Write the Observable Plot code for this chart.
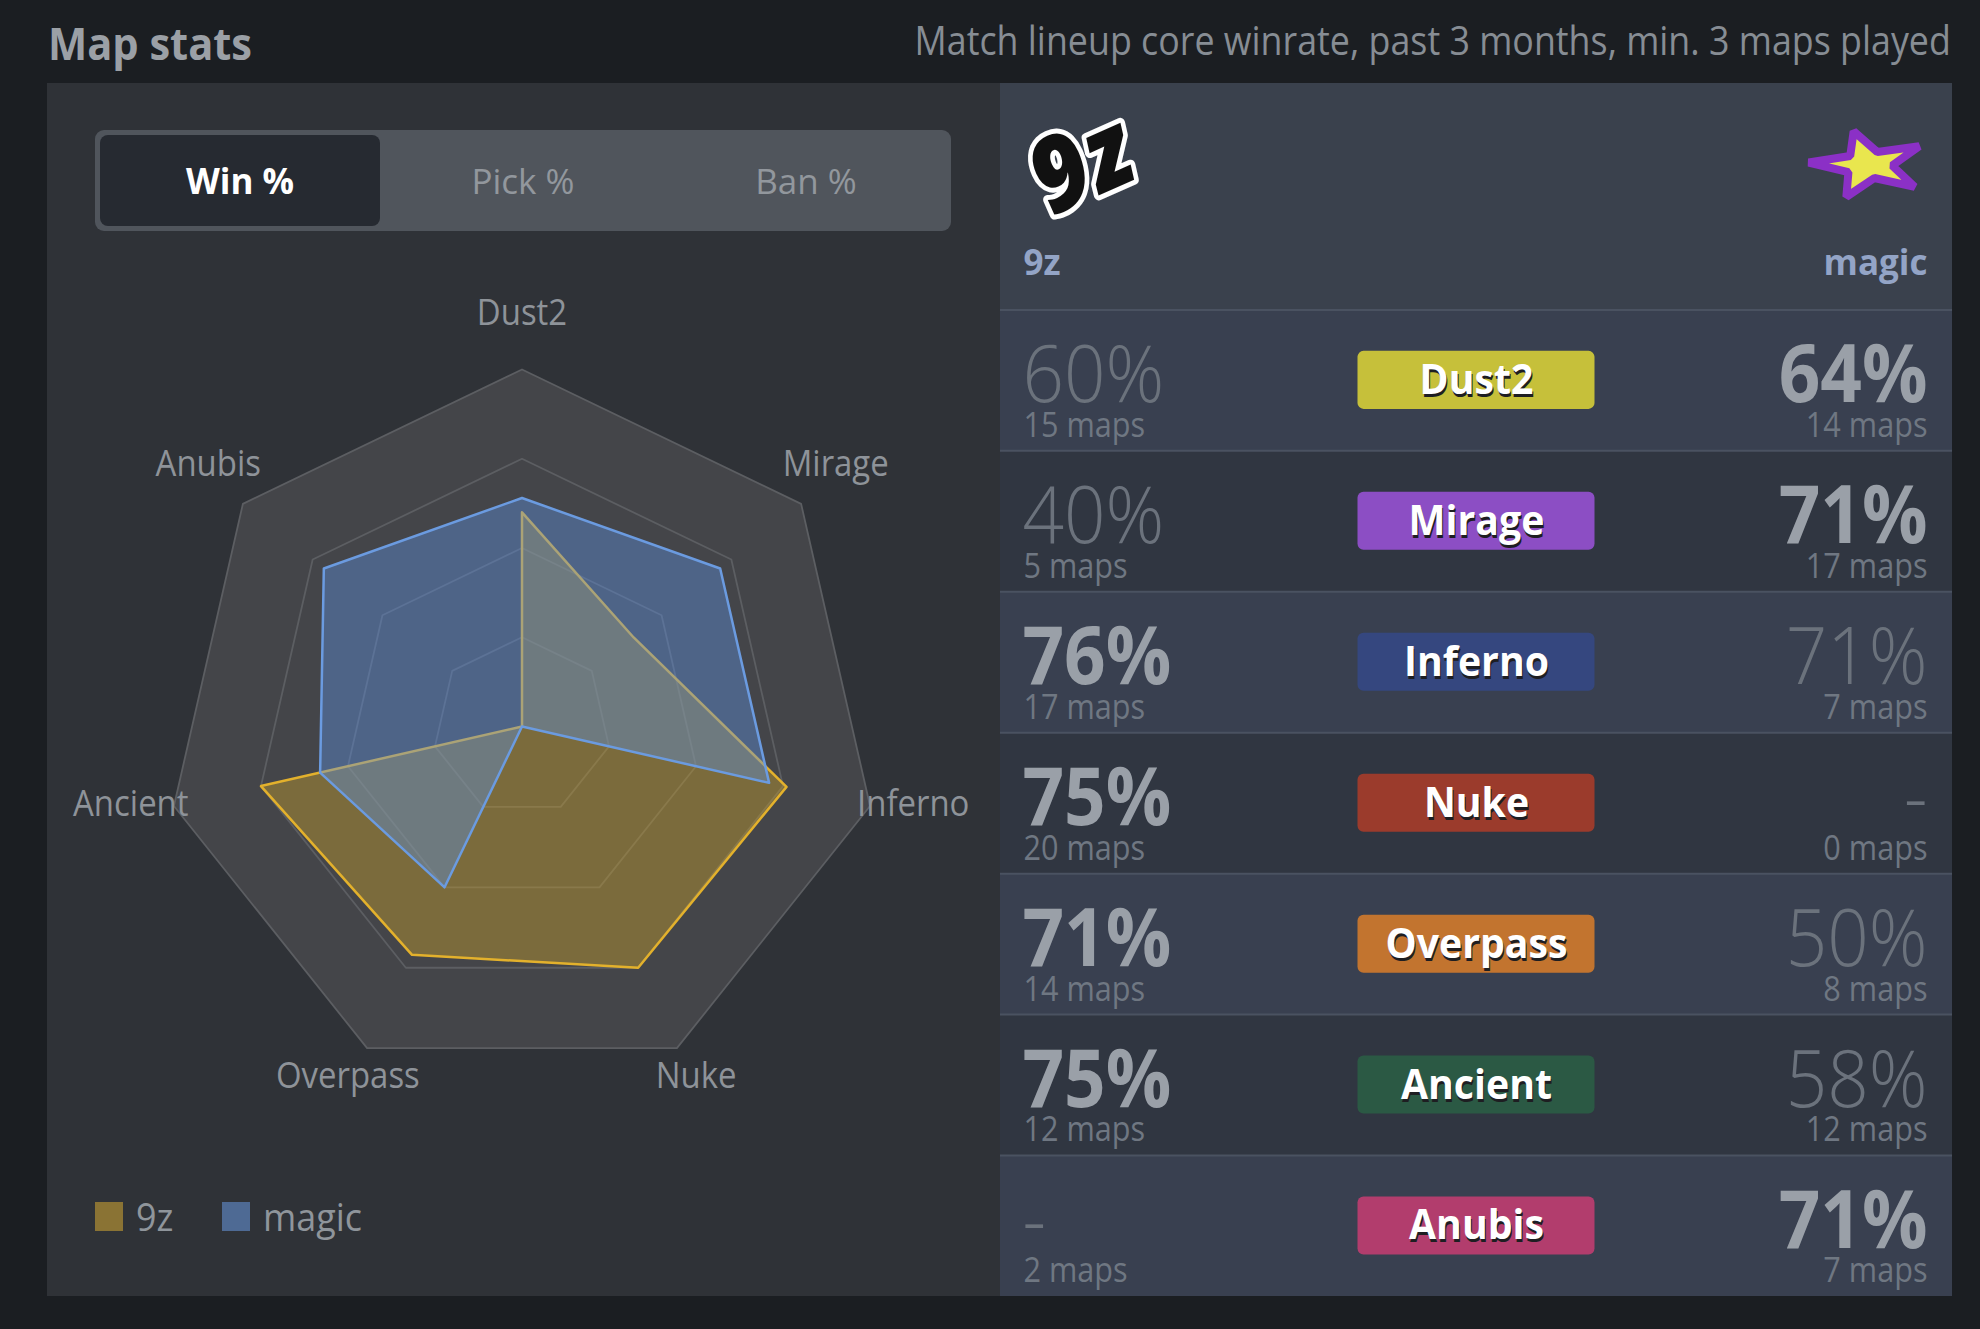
<!DOCTYPE html>
<html>
<head>
<meta charset="utf-8">
<script src="https://cdn.jsdelivr.net/npm/d3@7"></script>
<script src="https://cdn.jsdelivr.net/npm/@observablehq/plot@0.6"></script>
<style>
  html, body { margin: 0; padding: 0; background: #1b1e22; }
  body { width: 1980px; height: 1329px; position: relative; overflow: hidden;
         font-family: "Open Sans", sans-serif; }
  .sx { display: inline-block; white-space: nowrap; }
  #title { position: absolute; left: 48px; top: 21px; font-size: 44px; line-height: 44px;
           font-weight: 700; color: #9ba0a6; }
  #title .sx { transform: scaleX(0.945); transform-origin: left center; }
  #subtitle { position: absolute; right: 29px; top: 20px; font-size: 40px; line-height: 40px;
              color: #878d94; white-space: nowrap; text-align: right; }
  #subtitle .sx { transform: scaleX(0.895); transform-origin: right center; }
  #left { position: absolute; left: 47px; top: 83px; width: 953px; height: 1213px; background: #2f3237; }
  #right { position: absolute; left: 1000px; top: 83px; width: 952px; height: 1213px; background: #3a414d; }
  #tabs { position: absolute; left: 48px; top: 47px; width: 856px; height: 101px; background: #50555c;
          border-radius: 9px; }
  .tab { position: absolute; top: 5px; width: 280px; height: 91px; line-height: 91px; text-align: center;
         font-size: 35px; color: #92979d; border-radius: 8px; }
  .tab.active { background: #262a31; color: #ffffff; font-weight: 700; }
  #radar { position: absolute; left: 0; top: 160px; }
  .sw { position: absolute; width: 28px; height: 29px; top: 1119px; }
  .lg { position: absolute; top: 1108px; font-size: 38px; line-height: 50px; color: #8f959b; }
  .lg .sx { transform: scaleX(0.945); transform-origin: left center; }
  #table { position: absolute; left: 0; top: 0; }
</style>
</head>
<body>
<div id="title"><span class="sx">Map stats</span></div>
<div id="subtitle"><span class="sx">Match lineup core winrate, past 3 months, min. 3 maps played</span></div>
<div id="left">
  <div id="tabs"></div>
  <div id="radar"></div>
  <div id="legend"></div>
</div>
<div id="right"><div id="table"></div></div>
<script>
// ---------------- data ----------------
const maps = ["Dust2", "Mirage", "Inferno", "Nuke", "Overpass", "Ancient", "Anubis"];
const teams = ["9z", "magic"];
const winrate9z = [60, 40, 76, 75, 71, 75, null];
const mapsPlayed9z = [15, 5, 17, 20, 14, 12, 2];
const winrateMagic = [64, 71, 71, null, 50, 58, 71];
const mapsPlayedMagic = [14, 17, 7, 0, 8, 12, 7];
const tabLabels = ["Win %", "Pick %", "Ban %"];
const ringLevels = [25, 50, 75, 100];
const badgeColors = ["#c6c03a", "#8c4ec4", "#35477f", "#9b3b2c", "#c2742f", "#2b5944", "#b23d6d"];
const teamFill = ["#c99f2c", "#5e8fdd"];
const teamStroke = ["#e3b12c", "#6b9be0"];
const legendSwatch = ["#8a7334", "#4e6a94"];

// horizontal squeeze per text style (the source typeface is narrower than Open Sans)
function condense(svg) {
  svg.querySelectorAll("text").forEach(t => {
    const g = t.closest("g[font-size]");
    const fs = g ? +g.getAttribute("font-size") : 0;
    const fw = g ? g.getAttribute("font-weight") : null;
    let s = 0.875;
    if (fs >= 80) s = 0.91;
    else if (fs === 42) s = 0.935;
    else if (fs === 37) s = 0.89;
    else if (fs === 35 && fw === "700") s = 1;
    if (s === 1) return;
    const tr = t.getAttribute("transform");
    if (tr) t.setAttribute("transform", tr + ` scale(${s},1)`);
    else {
      const x = +(t.getAttribute("x") || 0), y = +(t.getAttribute("y") || 0);
      t.removeAttribute("x"); t.removeAttribute("y");
      t.setAttribute("transform", `translate(${x},${y}) scale(${s},1)`);
    }
  });
}

// ---------------- tabs & legend (HTML) ----------------
const tabs = document.getElementById("tabs");
tabLabels.forEach((t, i) => {
  const d = document.createElement("div");
  d.className = "tab" + (i === 0 ? " active" : "");
  d.style.left = (5 + i * 283) + "px";
  d.innerHTML = `<span class="sx">${t}</span>`;
  tabs.appendChild(d);
});
const legend = document.getElementById("legend");
const legendX = [48, 175];
teams.forEach((t, i) => {
  const sw = document.createElement("div");
  sw.className = "sw"; sw.style.left = legendX[i] + "px"; sw.style.background = legendSwatch[i];
  legend.appendChild(sw);
  const lb = document.createElement("div");
  lb.className = "lg"; lb.style.left = (legendX[i] + 41) + "px";
  lb.innerHTML = `<span class="sx">${t}</span>`;
  legend.appendChild(lb);
});

// ---------------- radar ----------------
const n = maps.length;
const ang = i => (i * 2 * Math.PI) / n;
const ringPts = ringLevels.flatMap(level => maps.map((m, i) => ({level, i, v: level})));
const outerPts = maps.map((m, i) => ({i, v: 100}));
const teamPts = (vals) => maps.map((m, i) => ({i, v: vals[i] == null ? 0 : vals[i]}));
const X = d => d.v * Math.sin(ang(d.i));
const Y = d => d.v * Math.cos(ang(d.i));
const labelR = 112.4;

const radar = Plot.plot({
  width: 953, height: 930,
  marginLeft: 117.5, marginRight: 121.5, marginTop: 126, marginBottom: 90,
  x: {domain: [-100, 100], axis: null},
  y: {domain: [-100, 100], axis: null},
  style: {background: "transparent", fontFamily: "'Open Sans', sans-serif", overflow: "visible"},
  marks: [
    Plot.line(outerPts, {x: X, y: Y, curve: "linear-closed", fill: "#444549", stroke: "none"}),
    Plot.line(ringPts, {x: X, y: Y, z: "level", curve: "linear-closed", stroke: "#5c5e62", strokeWidth: 1.8}),
    Plot.line(teamPts(winrate9z), {x: X, y: Y, curve: "linear-closed", fill: teamFill[0], fillOpacity: 0.42,
      stroke: teamStroke[0], strokeWidth: 2.5}),
    Plot.line(teamPts(winrateMagic), {x: X, y: Y, curve: "linear-closed", fill: teamFill[1], fillOpacity: 0.42,
      stroke: teamStroke[1], strokeWidth: 2.5}),
    Plot.text(maps, {x: (d, i) => labelR * Math.sin(ang(i)), y: (d, i) => labelR * Math.cos(ang(i)),
      text: d => d, fontSize: 37, fill: "#8e9399", dy: -12})
  ]
});
condense(radar);
document.getElementById("radar").appendChild(radar);

// ---------------- stats table ----------------
const W = 952, H = 1213, rowH = 140.94, headerRows = 226.4 / rowH;
const rows = maps.map((m, i) => ({
  map: m, i,
  a: winrate9z[i], an: mapsPlayed9z[i],
  b: winrateMagic[i], bn: mapsPlayedMagic[i]
}));
const score = v => v == null ? -1 : v;
const pctText = v => v == null ? "-" : v + "%";
const badgeHalf = 118.5 / W, badgeHalfH = 29 / rowH;
const bright = "#9aa0a8", dim = "#6b727c";

const leftBold = rows.filter(r => score(r.a) > score(r.b));
const leftLight = rows.filter(r => !(score(r.a) > score(r.b)));
const rightBold = rows.filter(r => score(r.b) > score(r.a));
const rightLight = rows.filter(r => !(score(r.b) > score(r.a)));
const pctOpts = (side, weight) => ({
  x: side === "left" ? 0 : 1, y: d => d.i + 0.655,
  text: d => pctText(side === "left" ? d.a : d.b),
  textAnchor: side === "left" ? "start" : "end", lineAnchor: "bottom",
  dx: side === "left" ? 22 : -25, fontSize: 80, fontWeight: weight,
  fill: weight === 700 ? bright : dim
});

// magic logo: a flattened, tilted five-pointed star (pixel offsets converted to table units)
const starCx = 1 - 84 / W, starCy = -1.03;
const star = d3.range(10).map(k => {
  const a = (k * Math.PI) / 5 - 0.25;
  const rr = k % 2 ? 19 : 48;
  return {x: starCx + (rr * Math.sin(a) * 1.25) / W, y: starCy - (rr * Math.cos(a) * 0.72) / rowH};
});

const table = Plot.plot({
  width: W, height: H, margin: 0,
  x: {domain: [0, 1], range: [0, W], axis: null},
  y: {domain: [-headerRows, 7], range: [0, H], axis: null},
  color: {type: "identity"},
  style: {background: "#3a414d", fontFamily: "'Open Sans', sans-serif", overflow: "visible"},
  marks: [
    Plot.rect(rows, {x1: 0, x2: 1, y1: d => d.i, y2: d => d.i + 1, fill: d => d.i % 2 ? "#303641" : "#394050"}),
    Plot.ruleY(d3.range(0, 7), {stroke: "#4a5261", strokeWidth: 2}),
    // team logos & names
    Plot.text([teams[0]], {x: 0, y: -1.02, text: d => d, dx: 82, fontSize: 104, fontWeight: 900, fontStyle: "italic",
      fill: "#111", stroke: "#ffffff", strokeWidth: 10, paintOrder: "stroke", rotate: -24}),
    Plot.line(star, {x: "x", y: "y", curve: "linear-closed", fill: "#e9e64e", stroke: "#8b30c6",
      strokeWidth: 8, strokeLinejoin: "miter"}),
    Plot.text([teams[0]], {x: 0, y: -0.25, text: d => d, textAnchor: "start", dx: 23, fontSize: 35,
      fontWeight: 700, fill: "#93a4c6", lineAnchor: "bottom"}),
    Plot.text([teams[1]], {x: 1, y: -0.25, text: d => d, textAnchor: "end", dx: -25, fontSize: 35,
      fontWeight: 700, fill: "#93a4c6", lineAnchor: "bottom"}),
    // badges
    Plot.rect(rows, {x1: 0.5 - badgeHalf, x2: 0.5 + badgeHalf, y1: d => d.i + 0.5 - badgeHalfH,
      y2: d => d.i + 0.5 + badgeHalfH, fill: d => badgeColors[d.i], rx: 6}),
    Plot.text(rows, {x: 0.5, y: d => d.i + 0.5, text: "map", fontSize: 42, fontWeight: 700, fill: "#1e1e22",
      dy: 3, dx: 1}),
    Plot.text(rows, {x: 0.5, y: d => d.i + 0.5, text: "map", fontSize: 42, fontWeight: 700, fill: "#ffffff"}),
    // percentages
    Plot.text(leftBold, pctOpts("left", 700)),
    Plot.text(leftLight, pctOpts("left", 300)),
    Plot.text(rightBold, pctOpts("right", 700)),
    Plot.text(rightLight, pctOpts("right", 300)),
    // maps played
    Plot.text(rows, {x: 0, y: d => d.i + 0.9, text: d => d.an + " maps", textAnchor: "start", lineAnchor: "bottom",
      dx: 23, fontSize: 35, fill: "#6f7782"}),
    Plot.text(rows, {x: 1, y: d => d.i + 0.9, text: d => d.bn + " maps", textAnchor: "end", lineAnchor: "bottom",
      dx: -25, fontSize: 35, fill: "#6f7782"})
  ]
});
condense(table);
document.getElementById("table").appendChild(table);
</script>
</body>
</html>
